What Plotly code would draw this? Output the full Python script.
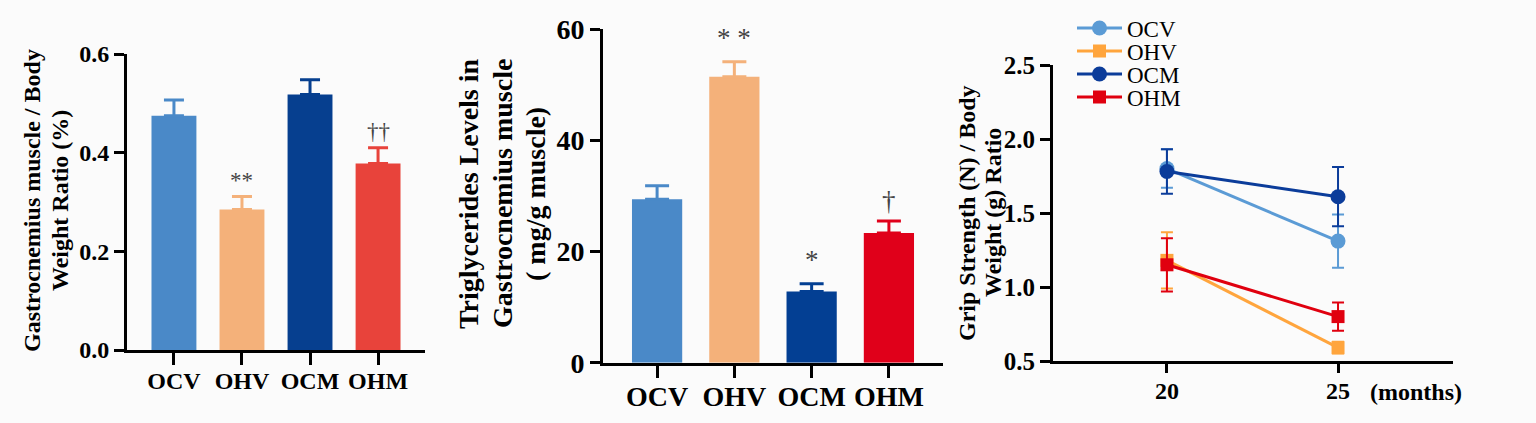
import plotly.graph_objects as go

# ---------------- data ----------------
groups = ["OCV", "OHV", "OCM", "OHM"]

# Panel A: Gastrocnemius muscle / body weight ratio (%)
gast_mean = [0.475, 0.285, 0.518, 0.378]
gast_err = [0.032, 0.026, 0.030, 0.032]
gast_sig = ["", "**", "", "††"]

# Panel B: Triglycerides in gastrocnemius (mg/g muscle)
tg_mean = [29.4, 51.4, 12.8, 23.3]
tg_err = [2.4, 2.7, 1.4, 2.2]
tg_sig = ["", "* *", "*", "†"]

# Panel C: grip strength / body weight ratio over age
months = [20, 25]
grip_mean = {
    "OCV": [1.80, 1.31],
    "OHV": [1.18, 0.59],
    "OCM": [1.78, 1.61],
    "OHM": [1.15, 0.80],
}
grip_err = {
    "OCV": [0.13, 0.18],
    "OHV": [0.19, 0.04],
    "OCM": [0.15, 0.20],
    "OHM": [0.18, 0.095],
}

colors_a = ["#4a89c8", "#f4b17a", "#063f8f", "#e8433b"]
colors_b = ["#4a89c8", "#f4b17a", "#033f93", "#e0001a"]
colors_c = {"OCV": "#5b9bd5", "OHV": "#ffa53d", "OCM": "#0b3c9a", "OHM": "#e0000f"}
symbols_c = {"OCV": "circle", "OHV": "square", "OCM": "circle", "OHM": "square"}

FONT = "Liberation Serif"
W, H = 1536, 423

fig = go.Figure()

# ---------------- panel A ----------------
for i, g in enumerate(groups):
    fig.add_trace(go.Bar(
        x=[g], y=[gast_mean[i]], width=0.66, marker_color=colors_a[i],
        marker_line_width=0,
        error_y=dict(type="data", array=[gast_err[i]], arrayminus=[0], symmetric=False,
                     color=colors_a[i], thickness=3, width=10),
        xaxis="x", yaxis="y", showlegend=False))
for i, s in enumerate(gast_sig):
    if s:
        fig.add_annotation(x=groups[i], y=gast_mean[i] + gast_err[i] + 0.033, text=s,
                           xref="x", yref="y", showarrow=False,
                           font=dict(family=FONT, size=23, color="#444"))

# ---------------- panel B ----------------
for i, g in enumerate(groups):
    fig.add_trace(go.Bar(
        x=[g], y=[tg_mean[i]], width=0.65, marker_color=colors_b[i],
        marker_line_width=0,
        error_y=dict(type="data", array=[tg_err[i]], arrayminus=[0], symmetric=False,
                     color=colors_b[i], thickness=3, width=12),
        xaxis="x2", yaxis="y2", showlegend=False))
tg_pad = [0, 4.3, 4.2, 3.6]
for i, s in enumerate(tg_sig):
    if s:
        fig.add_annotation(x=groups[i], y=tg_mean[i] + tg_err[i] + tg_pad[i], text=s,
                           xref="x2", yref="y2", showarrow=False,
                           font=dict(family=FONT, size=27, color="#444"))

# ---------------- panel C ----------------
legend_rows = [28, 51, 74, 97]
for k, g in enumerate(groups):
    lg = "legend" if k == 0 else "legend%d" % (k + 1)
    fig.add_trace(go.Scatter(
        x=months, y=grip_mean[g], mode="lines+markers", name=g, legend=lg,
        line=dict(color=colors_c[g], width=3),
        marker=dict(symbol=symbols_c[g], size=15 if symbols_c[g] == "circle" else 13,
                    color=colors_c[g]),
        error_y=dict(type="data", array=grip_err[g], color=colors_c[g],
                     thickness=2, width=6),
        xaxis="x3", yaxis="y3"))

axis_common = dict(showline=True, linecolor="black", linewidth=3, ticks="outside",
                   tickcolor="black", tickwidth=3, showgrid=False, zeroline=False,
                   automargin=False)

legend_common = dict(x=1072 / W, xanchor="left", yanchor="middle",
                     bgcolor="rgba(0,0,0,0)", borderwidth=0,
                     font=dict(family=FONT, size=23, color="black"), itemwidth=45)

fig.update_layout(
    width=W, height=H,
    margin=dict(l=0, r=0, t=0, b=0, autoexpand=False),
    paper_bgcolor="#fbfbfb", plot_bgcolor="rgba(0,0,0,0)",
    barmode="overlay",
    font=dict(family=FONT, color="black"),
    xaxis=dict(domain=[127 / W, 425 / W], anchor="y", range=[-0.69, 3.69],
               categoryorder="array", categoryarray=groups, ticklen=12,
               ticklabelstandoff=-5,
               tickfont=dict(family=FONT, size=24, color="black", weight="bold"),
               **axis_common),
    yaxis=dict(domain=[1 - 350 / H, 1 - 54 / H], anchor="x", range=[0, 0.6],
               tickvals=[0, 0.2, 0.4, 0.6], tickformat=".1f", ticklen=10,
               tickfont=dict(family=FONT, size=24, color="black", weight="bold"),
               **axis_common),
    xaxis2=dict(domain=[603 / W, 943 / W], anchor="y2", range=[-0.70, 3.70],
                categoryorder="array", categoryarray=groups, ticklen=12,
                ticklabelstandoff=-5,
                tickfont=dict(family=FONT, size=28, color="black", weight="bold"),
                **axis_common),
    yaxis2=dict(domain=[1 - 362.7 / H, 1 - 29 / H], anchor="x2", range=[0, 60],
                tickvals=[0, 20, 40, 60], ticklen=10,
                tickfont=dict(family=FONT, size=28, color="black", weight="bold"),
                **axis_common),
    xaxis3=dict(domain=[1053 / W, 1453 / W], anchor="y3", range=[16.67, 28.36],
                tickvals=[20, 25], ticklen=9, ticklabelstandoff=-3,
                tickfont=dict(family=FONT, size=24, color="black", weight="bold"),
                **axis_common),
    yaxis3=dict(domain=[1 - 361 / H, 1 - 65 / H], anchor="x3", range=[0.5, 2.5],
                tickvals=[0.5, 1.0, 1.5, 2.0, 2.5], tickformat=".1f", ticklen=10,
                tickfont=dict(family=FONT, size=25, color="black", weight="bold"),
                **axis_common),
    legend=dict(y=1 - legend_rows[0] / H, **legend_common),
    legend2=dict(y=1 - legend_rows[1] / H, **legend_common),
    legend3=dict(y=1 - legend_rows[2] / H, **legend_common),
    legend4=dict(y=1 - legend_rows[3] / H, **legend_common),
)

# axis titles (one annotation per line to match the original line spacing)
titles = [
    (["Gastrocnemius muscle / Body", "Weight Ratio (%)"], [32, 60], 201, 24),
    (["Triglycerides Levels in", "Gastrocnemius muscle", "( mg/g muscle)"], [468, 502, 535], 194, 28),
    (["Grip Strength (N) / Body", "Weight (g) Ratio"], [967, 993], 213, 24),
]
for lines, xs, yc, fs in titles:
    for txt, xp in zip(lines, xs):
        fig.add_annotation(x=xp / W, y=1 - yc / H, xref="paper", yref="paper",
                           text=txt, textangle=-90, showarrow=False,
                           xanchor="center", yanchor="middle",
                           font=dict(family=FONT, size=fs, color="black", weight="bold"))

fig.add_annotation(x=1416 / W, y=1 - 392 / H, xref="paper", yref="paper",
                   text="(months)", showarrow=False, xanchor="center", yanchor="middle",
                   font=dict(family=FONT, size=24, color="black", weight="bold"))

fig.write_html("out.html")
